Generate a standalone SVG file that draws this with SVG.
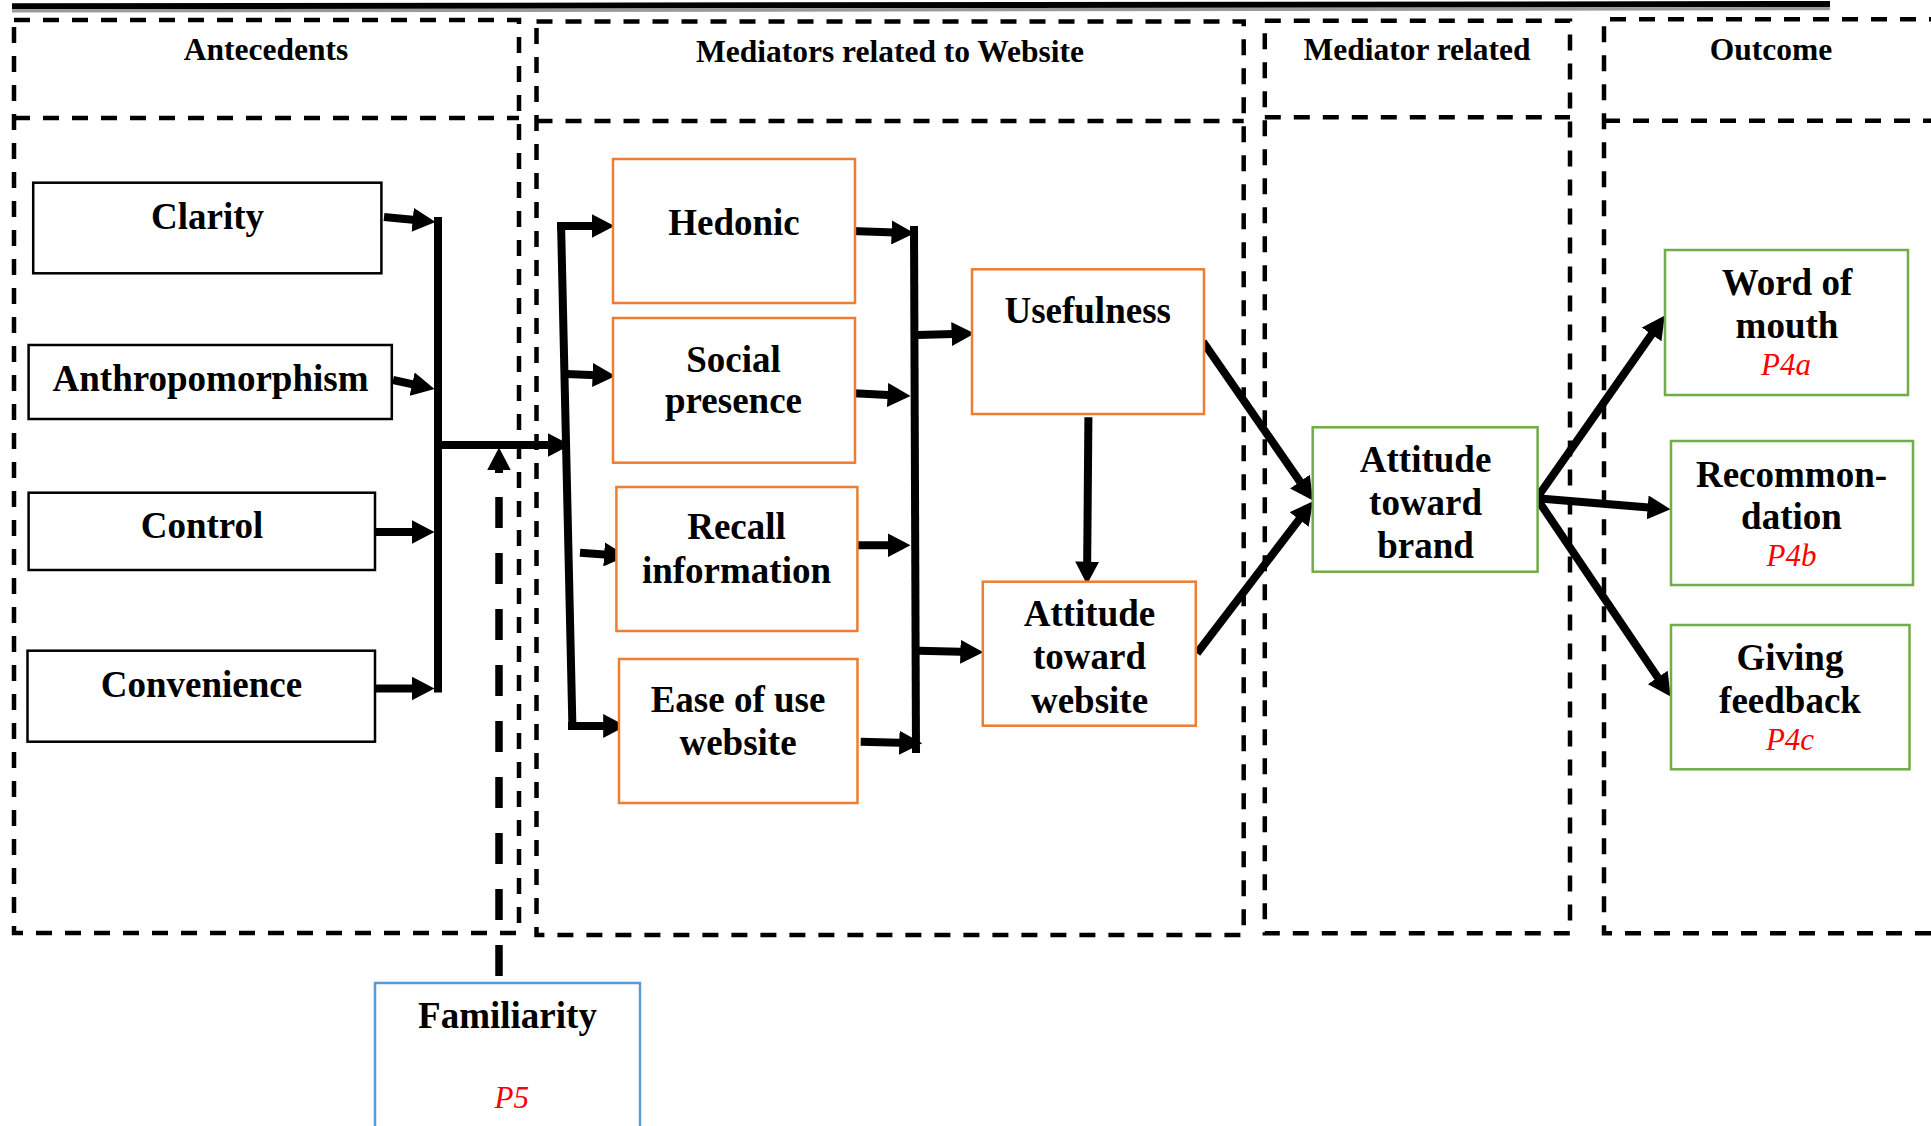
<svg xmlns="http://www.w3.org/2000/svg" width="1931" height="1126" viewBox="0 0 1931 1126">
  <defs>
    <style>
      .frame { fill: none; stroke: #000; stroke-width: 4.5; stroke-dasharray: 16 13; }
      .hdr { font-family: "Liberation Serif", "Times New Roman", serif; font-weight: bold; font-size: 31.5px; text-anchor: middle; fill: #000; }
      .lbl { font-family: "Liberation Serif", "Times New Roman", serif; font-weight: bold; font-size: 37px; text-anchor: middle; fill: #000; }
      .prop { font-family: "Liberation Serif", "Times New Roman", serif; font-style: italic; font-size: 31px; text-anchor: middle; fill: #ff0000; }
      .box { fill: #fff; stroke: #000; stroke-width: 2.5; }
      .orange { stroke: #ed7d31; }
      .green { stroke: #70ad47; }
      .blue { stroke: #5b9bd5; }
      .conn { fill: none; stroke: #000; stroke-width: 8; }
      .arrow { marker-end: url(#ah); }
    </style>
    <marker id="ah" markerUnits="userSpaceOnUse" markerWidth="23" markerHeight="24" viewBox="0 0 22 23" refX="10" refY="11.5" orient="auto">
      <path d="M0,0 L22,11.5 L0,23 z" fill="#000"/>
    </marker>
  </defs>

  <rect x="0" y="0" width="1931" height="1126" fill="#fff"/>

  <!-- heavy rule along the top -->
  <polygon points="12,3.3 1830,1 1830,7 12,9.3" fill="#000"/>
  <polygon points="12,9.3 1830,7 1830,10.3 12,12.6" fill="#9a9a9a"/>

  <!-- stage frames -->
  <g id="frames">
    <g id="frame-antecedents">
      <path class="frame" d="M14,20 H519 V933 H14 Z"/>
      <path class="frame" d="M14,118 H519"/>
      <text class="hdr" x="266" y="60">Antecedents</text>
    </g>
    <g id="frame-website">
      <path class="frame" d="M536.5,21.5 H1243.7 V935 H536.5 Z"/>
      <path class="frame" d="M536.5,121 H1243.7"/>
      <text class="hdr" x="890" y="62">Mediators related to Website</text>
    </g>
    <g id="frame-brand">
      <path class="frame" d="M1264.8,20.7 H1570 V933.3 H1264.8 Z"/>
      <path class="frame" d="M1264.8,117.3 H1570"/>
      <text class="hdr" x="1417" y="60">Mediator related</text>
    </g>
    <g id="frame-outcome">
      <path class="frame" d="M1945,19.3 H1604 V933.3 H1945"/>
      <path class="frame" d="M1604,120.7 H1945"/>
      <text class="hdr" x="1771" y="60">Outcome</text>
    </g>
  </g>

  <!-- connectors -->
  <g id="connectors">
    <!-- antecedents into the first bus -->
    <path class="conn arrow" d="M384,217 L423.06,220.83"/>
    <path class="conn arrow" d="M393,380 L422.28,386.43"/>
    <path class="conn arrow" d="M375,532 L422,532"/>
    <path class="conn arrow" d="M375,688.5 L422,688.5"/>
    <path class="conn" d="M438,217 L438,692.5"/>
    <path class="conn arrow" d="M442,445 L558,445"/>

    <!-- familiarity moderation (dashed) -->
    <path d="M499,976 L499,472" fill="none" stroke="#000" stroke-width="7.5" stroke-dasharray="31 25"/>
    <path class="conn arrow" d="M499,473 L499,460" stroke-width="7.5"/>

    <!-- second bus into website mediators -->
    <path class="conn" d="M561,222 L572.5,730"/>
    <path class="conn arrow" d="M557,226 L602,226"/>
    <path class="conn arrow" d="M566,374 L603.01,375.51"/>
    <path class="conn arrow" d="M580,552.7 L614.53,555.15"/>
    <path class="conn arrow" d="M568,726 L613.6,726"/>

    <!-- website mediators into the third bus -->
    <path class="conn arrow" d="M851.5,231 L902.01,232.86"/>
    <path class="conn arrow" d="M849,393 L898.01,395.41"/>
    <path class="conn arrow" d="M857.5,545.3 L898,545.3"/>
    <path class="conn arrow" d="M860.7,741.7 L909.7,742.99"/>
    <path class="conn" d="M914,226 L916,753"/>
    <path class="conn arrow" d="M918,335 L962,333.82"/>
    <path class="conn arrow" d="M918.5,650.7 L970.8,652"/>

    <!-- usefulness / attitude paths -->
    <path class="conn arrow" d="M1088.4,417.3 L1087.1,572"/>
    <path class="conn arrow" d="M1203,341.7 L1305.86,490.14"/>
    <path class="conn arrow" d="M1197,653.3 L1305.42,511.24"/>

    <!-- brand attitude to outcomes -->
    <path class="conn arrow" d="M1536.7,498.3 L1657.61,325.83"/>
    <path class="conn arrow" d="M1536.7,498.3 L1658.04,508.31"/>
    <path class="conn arrow" d="M1536.7,498.3 L1663.58,686.06"/>
  </g>

  <!-- antecedents -->
  <g id="clarity">
    <rect class="box" x="33.2" y="182.7" width="348.2" height="90.6"/>
    <text class="lbl" x="207.5" y="229.3">Clarity</text>
  </g>
  <g id="anthropomorphism">
    <rect class="box" x="28.6" y="345" width="363.2" height="74"/>
    <text class="lbl" x="210.5" y="390.7">Anthropomorphism</text>
  </g>
  <g id="control">
    <rect class="box" x="28.6" y="492.7" width="346.4" height="77.3"/>
    <text class="lbl" x="202" y="538.3">Control</text>
  </g>
  <g id="convenience">
    <rect class="box" x="27.5" y="650.7" width="347.5" height="91"/>
    <text class="lbl" x="201.4" y="696.7">Convenience</text>
  </g>

  <!-- website mediators -->
  <g id="hedonic">
    <rect class="box orange" x="613" y="159" width="242" height="144"/>
    <text class="lbl" x="734" y="235">Hedonic</text>
  </g>
  <g id="social-presence">
    <rect class="box orange" x="613" y="318" width="242" height="144.7"/>
    <text class="lbl" x="733.5" y="371.7">Social</text>
    <text class="lbl" x="733.5" y="413.3">presence</text>
  </g>
  <g id="recall-information">
    <rect class="box orange" x="616.4" y="487" width="241" height="144"/>
    <text class="lbl" x="736.5" y="539.3">Recall</text>
    <text class="lbl" x="736.5" y="583.3">information</text>
  </g>
  <g id="ease-of-use">
    <rect class="box orange" x="619" y="659" width="238.5" height="144"/>
    <text class="lbl" x="738" y="711.7">Ease of use</text>
    <text class="lbl" x="738" y="755">website</text>
  </g>
  <g id="usefulness">
    <rect class="box orange" x="972" y="269.3" width="232" height="144.7"/>
    <text class="lbl" x="1087.7" y="323.3">Usefulness</text>
  </g>
  <g id="attitude-website">
    <rect class="box orange" x="982.8" y="581.7" width="213" height="144"/>
    <text class="lbl" x="1089.5" y="626">Attitude</text>
    <text class="lbl" x="1089.5" y="669.3">toward</text>
    <text class="lbl" x="1089.5" y="712.7">website</text>
  </g>

  <!-- brand mediator -->
  <g id="attitude-brand">
    <rect class="box green" x="1312.7" y="427.3" width="224.9" height="144.4"/>
    <text class="lbl" x="1425.6" y="471.7">Attitude</text>
    <text class="lbl" x="1425.6" y="515">toward</text>
    <text class="lbl" x="1425.6" y="557.7">brand</text>
  </g>

  <!-- outcomes -->
  <g id="word-of-mouth">
    <rect class="box green" x="1665" y="250" width="243" height="145"/>
    <text class="lbl" x="1787" y="295">Word of</text>
    <text class="lbl" x="1787" y="338.3">mouth</text>
    <text class="prop" x="1786" y="375">P4a</text>
  </g>
  <g id="recommendation">
    <rect class="box green" x="1671" y="441" width="242" height="144"/>
    <text class="lbl" x="1791.5" y="486.7">Recommon-</text>
    <text class="lbl" x="1791.5" y="529.3">dation</text>
    <text class="prop" x="1791.5" y="566">P4b</text>
  </g>
  <g id="giving-feedback">
    <rect class="box green" x="1671" y="625" width="238.5" height="144.3"/>
    <text class="lbl" x="1790" y="670">Giving</text>
    <text class="lbl" x="1790" y="713.3">feedback</text>
    <text class="prop" x="1790" y="750">P4c</text>
  </g>

  <!-- moderator -->
  <g id="familiarity">
    <rect class="box blue" x="375" y="983" width="265" height="160"/>
    <text class="lbl" x="507.5" y="1028">Familiarity</text>
    <text class="prop" x="511.7" y="1108">P5</text>
  </g>
</svg>
